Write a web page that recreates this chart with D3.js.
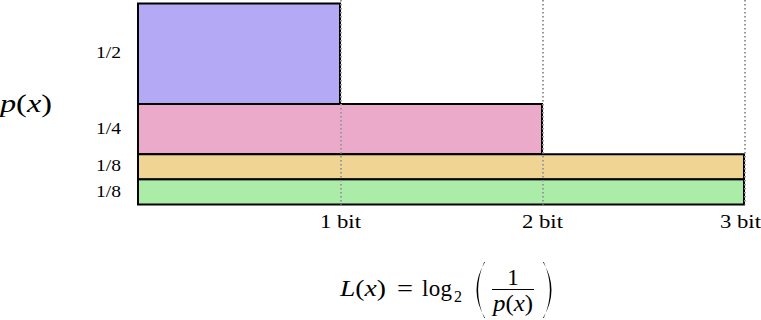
<!DOCTYPE html>
<html>
<head>
<meta charset="utf-8">
<script src="https://cdn.jsdelivr.net/npm/d3@7"></script>
<style>
  body { margin: 0; background: #fff; }
  svg text { font-family: "Liberation Serif", "DejaVu Serif", "Noto Serif", serif; fill: #000; }
</style>
</head>
<body>
<svg id="chart" width="761" height="320"></svg>
<script>
// Symbol probabilities and their code lengths
const probLabels = ["1/2", "1/4", "1/8", "1/8"];
const probs = [1 / 2, 1 / 4, 1 / 8, 1 / 8];
const codeBits = [1, 2, 3, 3];
const barColors = ["#b3a9f5", "#ecaaca", "#f0d494", "#abeca8"];
const bitTicks = [1, 2, 3];

const serif = "'Liberation Serif', 'DejaVu Serif', 'Noto Serif', serif";

const svg = d3.select("#chart").attr("font-family", serif);

// Scales: width is code length, height is probability
const x = d3.scaleLinear().domain([0, 3]).range([138, 744]);
const y = d3.scaleLinear().domain([0, 1]).range([3.5, 204.5]);

// Stack bars top to bottom
let cum = 0;
const bars = probs.map((p, i) => {
    const d = { p: p, bits: codeBits[i], label: probLabels[i], color: barColors[i], y0: cum };
    cum += p;
    return d;
});

svg.append("g")
    .selectAll("rect")
    .data(bars)
    .join("rect")
    .attr("x", x(0))
    .attr("y", d => y(d.y0))
    .attr("width", d => x(d.bits) - x(0))
    .attr("height", d => y(d.y0 + d.p) - y(d.y0))
    .attr("fill", d => d.color)
    .attr("stroke", "#000")
    .attr("stroke-width", 2);

// Dotted guide lines at each bit
svg.append("g")
    .selectAll("line")
    .data(bitTicks)
    .join("line")
    .attr("x1", d => x(d) + 1)
    .attr("x2", d => x(d) + 1)
    .attr("y1", 0)
    .attr("y2", y(1))
    .attr("stroke", "#999")
    .attr("stroke-width", 2)
    .attr("stroke-dasharray", "1.5,2.5");

// Bit labels along the bottom
const xAxis = svg.append("g")
    .attr("transform", `translate(0,${y(1)})`)
    .call(d3.axisBottom(x).tickValues(bitTicks).tickFormat(d => d + " bit").tickSize(0).tickPadding(11));
xAxis.attr("font-family", serif);
xAxis.select(".domain").remove();
xAxis.selectAll("text")
    .style("font-size", "18px")
    .attr("fill", "#000")
    .attr("textLength", 41)
    .attr("lengthAdjust", "spacingAndGlyphs")
    .attr("dx", d => d === 3 ? -4 : 0);

// Probability labels beside each bar
svg.append("g")
    .selectAll("text")
    .data(bars)
    .join("text")
    .attr("x", 121)
    .attr("y", d => y(d.y0 + d.p / 2) - 1)
    .attr("dy", "0.35em")
    .attr("text-anchor", "end")
    .style("font-size", "16px")
    .attr("textLength", 25)
    .attr("lengthAdjust", "spacingAndGlyphs")
    .text(d => d.label);

// p(x) label
const px = svg.append("text")
    .attr("x", 0)
    .attr("y", 112)
    .style("font-size", "26px")
    .attr("textLength", 52)
    .attr("lengthAdjust", "spacingAndGlyphs");
px.append("tspan").attr("font-style", "italic").text("p");
px.append("tspan").text("(");
px.append("tspan").attr("font-style", "italic").text("x");
px.append("tspan").text(")");

// Formula L(x) = log2(1 / p(x))
const f = svg.append("g").style("font-size", "23px");
const lx = f.append("text").attr("x", 340).attr("y", 296)
    .attr("textLength", 46).attr("lengthAdjust", "spacingAndGlyphs");
lx.append("tspan").attr("font-style", "italic").text("L");
lx.append("tspan").text("(");
lx.append("tspan").attr("font-style", "italic").text("x");
lx.append("tspan").text(")");
f.append("text").attr("x", 397).attr("y", 296)
    .attr("textLength", 16).attr("lengthAdjust", "spacingAndGlyphs").text("=");
f.append("text").attr("x", 422).attr("y", 296).attr("textLength", 30).text("log");
f.append("text").attr("x", 454).attr("y", 302).style("font-size", "16px").text("2");

// Big parentheses
const paren = (x0, dir) =>
    `M${x0},262 Q${x0 - dir * 17},290 ${x0},318 L${x0 - dir * 0.8},318 Q${x0 - dir * 13},290 ${x0 - dir * 0.8},262 Z`;
f.append("path").attr("d", paren(485, 1)).attr("fill", "#000");
f.append("path").attr("d", paren(543, -1)).attr("fill", "#000");

// Fraction
f.append("text").attr("x", 513).attr("y", 285).attr("text-anchor", "middle").text("1");
f.append("line").attr("x1", 492).attr("x2", 534).attr("y1", 289.5).attr("y2", 289.5)
    .attr("stroke", "#000").attr("stroke-width", 1);
const pf = f.append("text").attr("x", 493).attr("y", 311)
    .attr("textLength", 40).attr("lengthAdjust", "spacingAndGlyphs");
pf.append("tspan").attr("font-style", "italic").text("p");
pf.append("tspan").text("(");
pf.append("tspan").attr("font-style", "italic").text("x");
pf.append("tspan").text(")");
</script>
</body>
</html>
